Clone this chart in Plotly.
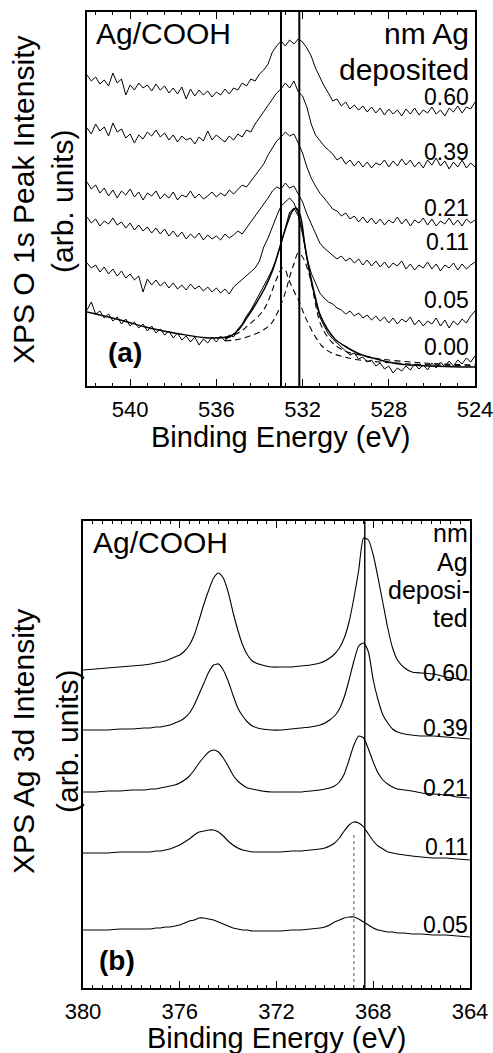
import plotly.graph_objects as go

FONT = "Liberation Sans, Arial, Helvetica, sans-serif"

# ---------------- (a) O 1s spectra ----------------
o1s_energy = [542.0, 541.8, 541.6, 541.4, 541.2, 541.0, 540.8, 540.6, 540.4, 540.2,
              540.0, 539.8, 539.6, 539.4, 539.2, 539.0, 538.8, 538.6, 538.4, 538.2,
              538.0, 537.8, 537.6, 537.4, 537.2, 537.0, 536.8, 536.6, 536.4, 536.2,
              536.0, 535.8, 535.6, 535.4, 535.2, 535.0, 534.8, 534.6, 534.4, 534.2,
              534.0, 533.8, 533.6, 533.4, 533.2, 533.0, 532.8, 532.6, 532.4, 532.2,
              532.0, 531.8, 531.6, 531.4, 531.2, 531.0, 530.8, 530.6, 530.4, 530.2,
              530.0, 529.8, 529.6, 529.4, 529.2, 529.0, 528.8, 528.6, 528.4, 528.2,
              528.0, 527.8, 527.6, 527.4, 527.2, 527.0, 526.8, 526.6, 526.4, 526.2,
              526.0, 525.8, 525.6, 525.4, 525.2, 525.0, 524.8, 524.6, 524.4, 524.2,
              524.0]

o1s_060 = [311, 305, 309, 302, 306, 300, 313, 303, 307, 291,
           301, 296, 303, 298, 301, 295, 302, 296, 300, 293,
           298, 292, 299, 287, 297, 290, 296, 291, 295, 289,
           294, 291, 297, 292, 298, 296, 303, 300, 307, 305,
           312, 316, 322, 334, 340, 345, 340, 346, 342, 347,
           344, 338, 330, 318, 309, 300, 293, 285, 287, 280,
           284, 277, 281, 276, 280, 274, 279, 273, 278, 271,
           277, 272, 276, 270, 277, 272, 278, 271, 276, 273,
           279, 272, 276, 270, 278, 274, 280, 273, 279, 277,
           284]
o1s_039 = [258, 252, 262, 255, 259, 250, 263, 254, 257, 248,
           252, 243, 251, 247, 254, 250, 256, 249, 253, 246,
           251, 244, 250, 246, 248, 242, 249, 245, 255, 246,
           251, 247, 244, 250, 246, 252, 249, 256, 254, 262,
           268, 274, 281, 287, 293, 297, 303, 298, 305, 294,
           290, 279, 262, 251, 245, 240, 236, 232, 226, 229,
           222, 226, 220, 225, 219, 224, 218, 223, 221, 226,
           219, 225, 220, 227, 221, 226, 219, 224, 218, 226,
           221, 228, 220, 225, 217, 224, 219, 226, 218, 223,
           219]
o1s_021 = [204, 197, 201, 193, 198, 190, 196, 188, 195, 191,
           197, 189, 194, 186, 193, 190, 195, 187, 192, 188,
           194, 186, 191, 189, 195, 188, 192, 187, 190, 194,
           189, 193, 190, 196, 192, 197, 201, 199, 205, 210,
           216, 222, 231, 238, 245, 249, 254, 250, 252, 243,
           233, 219, 208, 200, 193, 188, 182, 177, 175, 170,
           173, 167, 170, 164, 169, 163, 168, 162, 167, 161,
           166, 163, 169, 162, 167, 160, 166, 163, 168, 161,
           167, 160, 165, 162, 168, 161, 166, 160, 167, 163,
           166]
o1s_011 = [169, 163, 167, 160, 165, 162, 168, 161, 164, 158,
           163, 156, 161, 155, 159, 153, 158, 152, 157, 150,
           155, 149, 154, 147, 152, 148, 153, 146, 151, 147,
           150, 146, 152, 148, 151, 155, 152, 158, 163, 170,
           176, 181, 188, 195, 199, 197, 203, 198, 200, 192,
           184, 172, 162, 152, 143, 138, 134, 130, 127, 130,
           125, 128, 123, 127, 121, 126, 120, 125, 119, 124,
           118, 123, 120, 125, 117, 122, 116, 121, 118, 124,
           117, 122, 115, 121, 118, 123, 116, 122, 117, 121,
           124]
o1s_005 = [123, 118, 121, 114, 119, 112, 117, 110, 115, 108,
           112, 106, 110, 94, 107, 101, 106, 100, 104, 98,
           103, 97, 101, 96, 102, 97, 100, 95, 99, 94,
           98, 93, 97, 92, 99, 103, 106, 110, 114, 118,
           125, 139, 148, 160, 170, 180, 184, 188, 183, 172,
           155, 128, 113, 102, 93, 88, 84, 82, 78, 76,
           72, 75, 70, 73, 68, 71, 66, 70, 65, 69,
           63, 68, 62, 67, 64, 69, 61, 66, 60, 65,
           62, 68, 60, 66, 58, 65, 61, 67, 63, 70,
           75]
o1s_000 = [76, 84, 72, 75, 68, 72, 65, 69, 62, 67,
           60, 64, 58, 62, 55, 60, 53, 57, 51, 55,
           48, 53, 46, 50, 44, 49, 41, 47, 43, 49,
           44, 50, 45, 51, 49, 57, 62, 70, 76, 84,
           92, 99, 108, 117, 128, 142, 158, 174, 178, 170,
           152, 128, 104, 86, 69, 60, 52, 47, 43, 38,
           35, 31, 33, 27, 29, 24, 26, 20, 23, 17,
           20, 13, 18, 15, 20, 16, 22, 17, 21, 16,
           23, 18, 24, 19, 25, 20, 26, 22, 28, 24,
           30]

o1s_series = [o1s_060, o1s_039, o1s_021, o1s_011, o1s_005, o1s_000]
o1s_labels = ["0.60", "0.39", "0.21", "0.11", "0.05", "0.00"]
o1s_label_heights = [289, 234, 178, 144, 86, 39]   # label positions, arb. units

# fit components of the 0.00 nm spectrum
fit1_energy = [535.6, 534.9, 534.45, 533.95, 533.7, 533.5, 533.3, 533.1, 532.95, 532.8,
               532.65, 532.4, 532.15, 531.95, 531.7, 531.4, 531.1, 530.65, 530.05, 529.35,
               528.4, 527.0, 525.6, 524.0]
fit1_int = [47, 54, 62, 72, 80, 90, 102, 112, 118, 116,
            107, 95, 84, 73, 61, 49, 40, 33, 29, 26,
            24, 22, 21, 20]
fit2_energy = [535.6, 534.9, 534.2, 533.75, 533.4, 533.05, 532.75, 532.6, 532.4, 532.2,
               532.0, 531.8, 531.6, 531.4, 531.2, 530.9, 530.6, 530.05, 529.35, 528.4,
               527.0, 525.6, 524.0]
fit2_int = [45, 47, 52, 57, 64, 79, 97, 109, 122, 133,
            129, 119, 104, 82, 64, 51, 43, 35, 31, 27,
            24, 22, 21]
env_energy = [542.0, 540.45, 539.1, 537.7, 536.3, 535.35, 534.9, 534.65, 534.2, 533.75,
              533.4, 533.15, 532.9, 532.65, 532.5, 532.3, 532.1, 531.9, 531.65, 531.4,
              531.2, 530.85, 530.5, 530.05, 529.35, 528.4, 527.5, 526.1, 524.7, 524.0]
env_int = [74, 66, 58, 52, 48, 50, 58, 66, 81, 98,
           115, 132, 150, 166, 174, 178, 170, 142, 112, 88,
           72, 57, 47, 40, 32, 26, 22, 20, 19, 19]
o1s_ref_lines = [533.0, 532.15]

# ---------------- (b) Ag 3d spectra ----------------
ag_energy = [380.0, 379.5, 379.0, 378.5, 378.0, 377.5, 377.2, 377.0, 376.8, 376.6,
             376.4, 376.2, 376.0, 375.8, 375.6, 375.4, 375.2, 375.0, 374.8, 374.6,
             374.4, 374.2, 374.0, 373.8, 373.6, 373.4, 373.2, 373.0, 372.6, 372.2,
             371.8, 371.4, 371.0, 370.6, 370.2, 370.0, 369.8, 369.6, 369.4, 369.2,
             369.0, 368.8, 368.6, 368.4, 368.2, 368.0, 367.8, 367.6, 367.4, 367.2,
             367.0, 366.7, 366.4, 366.0, 365.5, 365.0, 364.5, 364.0]
ag_060 = [318, 319, 320, 321, 322, 323, 324, 325, 326, 327,
          329, 331, 333, 337, 343, 353, 368, 384, 398, 410,
          415, 410, 396, 376, 358, 343, 333, 327, 323, 321,
          321, 321, 322, 323, 325, 327, 330, 334, 340, 350,
          366, 390, 418, 450, 448, 433, 410, 385, 360, 340,
          328, 320, 316, 315, 314, 311, 309, 308]
ag_039 = [258, 258, 258, 259, 259, 260, 260, 261, 261, 262,
          263, 265, 267, 270, 275, 283, 294, 305, 316, 323,
          324, 318, 307, 293, 280, 272, 266, 262, 259, 258,
          258, 259, 260, 261, 263, 265, 268, 272, 279, 291,
          308, 327, 342, 345, 336, 308, 288, 273, 265, 259,
          256, 254, 253, 252, 252, 251, 250, 249]
ag_021 = [196, 196, 197, 197, 198, 198, 199, 199, 200, 201,
          202, 203, 205, 208, 212, 218, 225, 231, 236, 238,
          236, 230, 222, 213, 207, 203, 200, 199, 197, 196,
          196, 196, 196, 197, 198, 199, 200, 202, 206, 214,
          228, 243, 252, 250, 239, 226, 215, 208, 204, 201,
          199, 198, 197, 195, 194, 193, 191, 190]
ag_011 = [135, 135, 135, 136, 136, 136, 136, 137, 137, 138,
          139, 141, 143, 146, 149, 153, 156, 157, 158, 158,
          156, 152, 147, 143, 140, 138, 137, 136, 136, 136,
          136, 137, 137, 138, 139, 140, 142, 145, 150, 157,
          163, 166, 165, 161, 154, 147, 142, 139, 136, 135,
          134, 133, 132, 131, 130, 130, 129, 128]
ag_005 = [58, 58, 58, 59, 59, 59, 59, 60, 60, 61,
          61, 62, 63, 65, 67, 68, 70, 70, 69, 68,
          66, 64, 62, 60, 59, 58, 58, 57, 57, 57,
          57, 58, 58, 59, 60, 61, 63, 66, 68, 70,
          71, 71, 69, 66, 63, 60, 58, 57, 56, 56,
          55, 55, 54, 54, 53, 53, 52, 51]
ag_series = [ag_060, ag_039, ag_021, ag_011, ag_005]
ag_labels = ["0.60", "0.39", "0.21", "0.11", "0.05"]
ag_label_heights = [315, 260, 200, 141, 63]
ag_ref_line = 368.35
ag_dotted_line = 368.8
ag_dotted_top = 155

fig = go.Figure()

for s in o1s_series:
    fig.add_trace(go.Scatter(x=o1s_energy, y=s, mode="lines", xaxis="x", yaxis="y",
                             line=dict(color="black", width=1.0), hoverinfo="skip"))
fig.add_trace(go.Scatter(x=env_energy, y=env_int, mode="lines", xaxis="x", yaxis="y",
                         line=dict(color="black", width=1.5, shape="spline"), hoverinfo="skip"))
for ex, iy in [(fit1_energy, fit1_int), (fit2_energy, fit2_int)]:
    fig.add_trace(go.Scatter(x=ex, y=iy, mode="lines", xaxis="x", yaxis="y",
                             line=dict(color="black", width=1.1, dash="6px,4px", shape="spline"),
                             hoverinfo="skip"))

for s in ag_series:
    fig.add_trace(go.Scatter(x=ag_energy, y=s, mode="lines", xaxis="x2", yaxis="y2",
                             line=dict(color="black", width=1.1, shape="spline", smoothing=0.6),
                             hoverinfo="skip"))

shapes = []
for v in o1s_ref_lines:
    shapes.append(dict(type="line", xref="x", yref="y domain", x0=v, x1=v, y0=0, y1=1,
                       line=dict(color="black", width=2)))
shapes.append(dict(type="line", xref="x2", yref="y2 domain", x0=ag_ref_line, x1=ag_ref_line,
                   y0=0, y1=1, line=dict(color="black", width=1.4)))
shapes.append(dict(type="line", xref="x2", yref="y2", x0=ag_dotted_line, x1=ag_dotted_line,
                   y0=0, y1=ag_dotted_top, line=dict(color="#555555", width=1, dash="dot")))

W, H = 493, 1053


def px(x):
    return x / W


def py(y):
    return 1 - y / H


ann = []


def add(text, x, y, size, xanchor="center", yanchor="middle", angle=0, bold=False):
    t = "<b>%s</b>" % text if bold else text
    ann.append(dict(text=t, x=px(x), y=py(y), xref="paper", yref="paper",
                    xanchor=xanchor, yanchor=yanchor, showarrow=False, textangle=angle,
                    font=dict(size=size, family=FONT, color="black")))


# panel (a) texts
add("Ag/COOH", 94, 33, 30, xanchor="left")
add("nm Ag", 471, 33, 30, xanchor="right")
add("deposited", 471, 69, 30, xanchor="right")
for lab, h in zip(o1s_labels, o1s_label_heights):
    ann.append(dict(text=lab, x=471 / W, y=h, xref="paper", yref="y", xanchor="right",
                    yanchor="middle", showarrow=False,
                    font=dict(size=23, family=FONT, color="black")))
add("(a)", 125, 353, 28, bold=True)
add("XPS O 1s Peak Intensity", 23, 200, 30, angle=-90)
add("(arb. units)", 63, 202, 30, angle=-90)
add("Binding Energy (eV)", 281, 437, 29)

# panel (b) texts
add("Ag/COOH", 91, 542, 30, xanchor="left")
add("nm", 470, 533, 25, xanchor="right")
add("Ag", 470, 562, 25, xanchor="right")
add("deposi-", 472, 590, 25, xanchor="right")
add("ted", 470, 618, 25, xanchor="right")
for lab, h in zip(ag_labels, ag_label_heights):
    ann.append(dict(text=lab, x=470 / W, y=h, xref="paper", yref="y2", xanchor="right",
                    yanchor="middle", showarrow=False,
                    font=dict(size=23, family=FONT, color="black")))
add("(b)", 117, 960, 28, bold=True)
add("XPS Ag 3d Intensity", 23, 742, 30, angle=-90)
add("(arb. units)", 67, 742, 30, angle=-90)
add("Binding Energy (eV)", 277, 1038, 29)

axis_common = dict(showgrid=False, zeroline=False, showline=True, linecolor="black",
                   linewidth=1.5)

fig.update_layout(
    width=W, height=H, margin=dict(l=0, r=0, t=0, b=0, autoexpand=False),
    paper_bgcolor="white", plot_bgcolor="white", showlegend=False,
    font=dict(family=FONT, color="black"),
    xaxis=dict(domain=[87 / W, 475 / W], range=[542, 524], anchor="y",
               tickmode="array", tickvals=[540, 536, 532, 528, 524],
               ticks="inside", ticklen=7, tickwidth=1.2, tickcolor="black",
               mirror="ticks", tickfont=dict(size=22, family=FONT), ticklabelstandoff=3,
               ticklabeloverflow="allow", automargin=False,
               minor=dict(tick0=540, dtick=0.8, ticks="inside", ticklen=3.5,
                          tickwidth=1, tickcolor="black"),
               **axis_common),
    yaxis=dict(domain=[1 - 386 / H, 1 - 12 / H], range=[0, 374], anchor="x",
               showticklabels=False, ticks="", mirror=True, automargin=False, **axis_common),
    xaxis2=dict(domain=[83 / W, 470 / W], range=[380, 364], anchor="y2",
                tickmode="array", tickvals=[380, 376, 372, 368, 364],
                ticks="inside", ticklen=7, tickwidth=1.2, tickcolor="black",
                mirror="ticks", tickfont=dict(size=22, family=FONT), ticklabelstandoff=3,
                ticklabeloverflow="allow", automargin=False,
                minor=dict(tick0=380, dtick=0.4, ticks="inside", ticklen=3.5,
                           tickwidth=1, tickcolor="black"),
                **axis_common),
    yaxis2=dict(domain=[1 - 988 / H, 1 - 521 / H], range=[0, 467], anchor="x2",
                showticklabels=False, ticks="", mirror=True, automargin=False, **axis_common),
    shapes=shapes,
    annotations=ann,
)

fig.write_html("out.html")
